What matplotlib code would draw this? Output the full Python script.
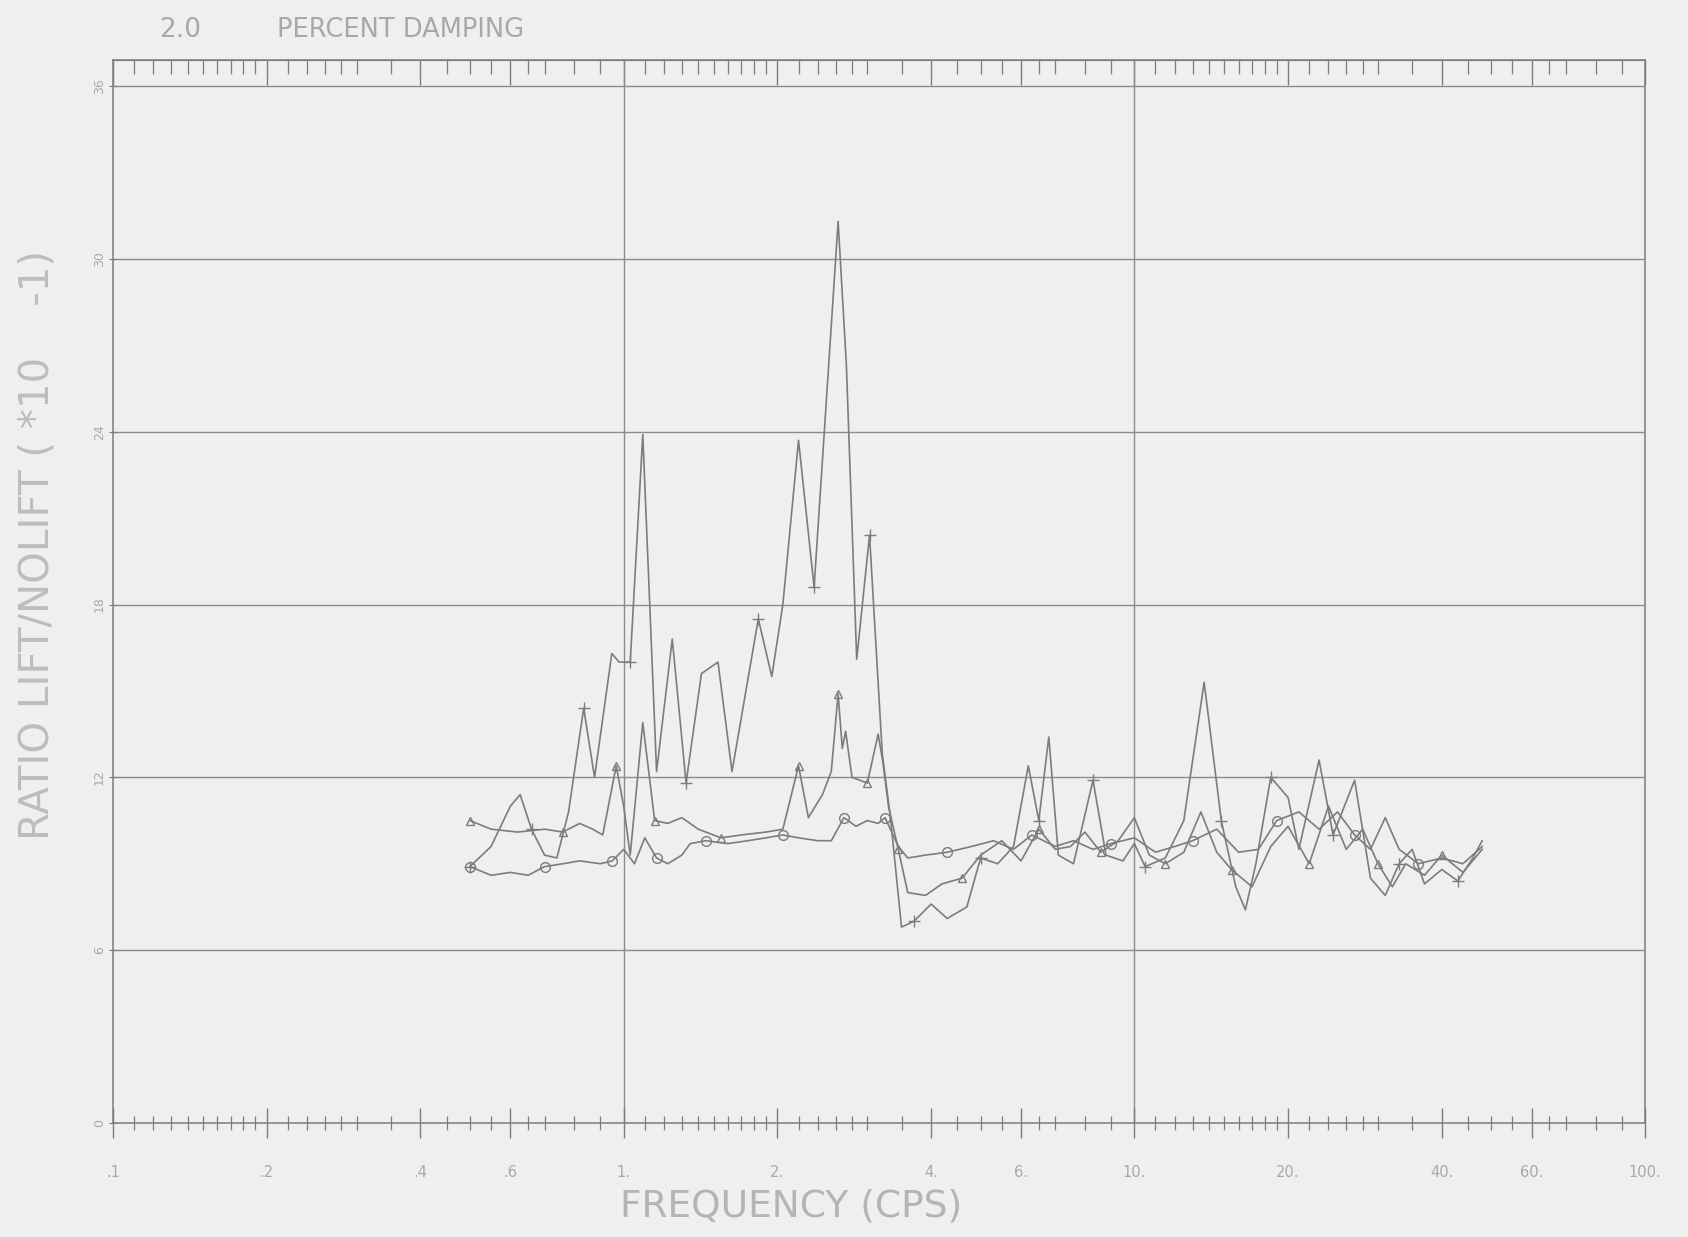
import matplotlib
matplotlib.use("Agg")
import matplotlib.pyplot as plt
from matplotlib.ticker import FixedLocator, FixedFormatter, NullFormatter

# ---- data: response ratio (x 10^-1) versus frequency (cps) ----
freq_a = [0.50, 0.55, 0.60, 0.627, 0.66, 0.70, 0.74, 0.78, 0.835, 0.877, 0.948, 0.98, 1.03,
          1.09, 1.16, 1.245, 1.325, 1.42, 1.53, 1.63, 1.835, 1.95, 2.05, 2.20, 2.36, 2.63,
          2.73, 2.86, 3.03, 3.21, 3.33, 3.50, 3.70, 4.0, 4.3, 4.7, 5.0, 5.4, 5.8, 6.2, 6.5,
          6.8, 7.1, 7.6, 8.3, 8.8, 9.5, 10.0, 10.5, 11.5, 12.5, 13.7, 14.8, 15.8, 16.5, 17.3,
          18.5, 20.0, 21.0, 23.0, 24.5, 27.0, 29.0, 31.0, 33.0, 35.0, 37.0, 40.0, 43.0, 46.0, 48.0]
ratio_a = [8.9, 9.6, 11.0, 11.4, 10.2, 9.3, 9.2, 10.8, 14.4, 12.0, 16.3, 16.0, 16.0,
           23.9, 12.2, 16.8, 11.8, 15.6, 16.0, 12.2, 17.5, 15.5, 18.0, 23.7, 18.6, 31.3,
           26.3, 16.1, 20.4, 12.8, 10.6, 6.8, 7.0, 7.6, 7.1, 7.5, 9.2, 9.0, 9.6, 12.4, 10.5,
           13.4, 9.3, 9.0, 11.9, 9.3, 9.1, 9.7, 8.9, 9.2, 10.5, 15.3, 10.5, 8.2, 7.4, 9.0,
           12.0, 11.3, 9.5, 12.6, 10.0, 11.9, 8.5, 7.9, 9.0, 9.5, 8.3, 8.8, 8.4, 9.2, 9.8]

freq_b = [0.50, 0.55, 0.62, 0.70, 0.76, 0.82, 0.87, 0.91, 0.967, 1.0, 1.03, 1.09, 1.15,
          1.22, 1.30, 1.40, 1.55, 1.70, 1.90, 2.05, 2.20, 2.30, 2.45, 2.55, 2.63, 2.68,
          2.72, 2.80, 3.00, 3.15, 3.22, 3.30, 3.45, 3.60, 3.90, 4.2, 4.6, 5.0, 5.5, 6.0,
          6.5, 7.0, 7.5, 8.0, 8.6, 9.3, 10.0, 10.7, 11.5, 12.5, 13.5, 14.5, 15.5, 17.0,
          18.5, 20.0, 22.0, 24.0, 26.0, 28.0, 30.0, 32.0, 34.0, 37.0, 40.0, 44.0, 48.0]
ratio_b = [10.5, 10.2, 10.1, 10.2, 10.1, 10.4, 10.2, 10.0, 12.4, 11.0, 9.3, 13.9, 10.5,
           10.4, 10.6, 10.2, 9.9, 10.0, 10.1, 10.2, 12.4, 10.6, 11.4, 12.2, 14.9, 13.0,
           13.6, 12.0, 11.8, 13.5, 12.5, 11.0, 9.5, 8.0, 7.9, 8.3, 8.5, 9.3, 9.8, 9.1,
           10.2, 9.5, 9.6, 10.1, 9.4, 9.8, 10.6, 9.3, 9.0, 9.4, 10.8, 9.4, 8.8, 8.2,
           9.6, 10.3, 9.0, 11.0, 9.5, 10.2, 9.0, 8.2, 9.0, 8.6, 9.3, 8.7, 9.5]

freq_c = [0.50, 0.55, 0.60, 0.65, 0.70, 0.76, 0.82, 0.90, 0.95, 1.0, 1.05, 1.10, 1.16,
          1.22, 1.30, 1.35, 1.45, 1.60, 1.75, 1.90, 2.05, 2.20, 2.40, 2.55, 2.70, 2.85,
          3.00, 3.15, 3.25, 3.45, 3.60, 3.90, 4.3, 4.8, 5.3, 5.8, 6.3, 7.0, 7.6, 8.3, 9.0,
          10.0, 11.0, 12.0, 13.0, 14.5, 16.0, 17.5, 19.0, 21.0, 23.0, 25.0, 27.0, 29.0,
          31.0, 33.0, 36.0, 40.0, 44.0, 48.0]
ratio_c = [8.9, 8.6, 8.7, 8.6, 8.9, 9.0, 9.1, 9.0, 9.1, 9.5, 9.0, 9.9, 9.2,
           9.0, 9.3, 9.7, 9.8, 9.7, 9.8, 9.9, 10.0, 9.9, 9.8, 9.8, 10.6, 10.3,
           10.5, 10.4, 10.6, 9.6, 9.2, 9.3, 9.4, 9.6, 9.8, 9.5, 10.0, 9.6, 9.8, 9.5, 9.7,
           9.9, 9.4, 9.6, 9.8, 10.2, 9.4, 9.5, 10.5, 10.8, 10.2, 10.8, 10.0, 9.5,
           10.6, 9.5, 9.0, 9.2, 9.0, 9.6]

# ---- axis annotation ----
x_tick_values = [0.1, 0.2, 0.4, 0.6, 1, 2, 4, 6, 10, 20, 40, 60, 100]
x_tick_labels = [".1", ".2", ".4", ".6", "1.", "2.", "4.", "6.", "10.", "20.", "40.", "60.", "100."]
y_tick_values = [0, 6, 12, 18, 24, 30, 36]
y_tick_labels = ["0", "6", "12", "18", "24", "30", "36"]
minor_mantissas = [1.1, 1.2, 1.3, 1.4, 1.5, 1.6, 1.7, 1.8, 1.9, 2.2, 2.4, 2.6, 2.8, 3.0,
                   3.5, 4.5, 5.0, 5.5, 6.5, 7.0, 8.0, 9.0]
damping_value = "2.0"
damping_caption = "PERCENT DAMPING"
x_title = "FREQUENCY (CPS)"
y_title = "RATIO LIFT/NOLIFT ( *10    -1)"

BG = "#efefed"
INK = "#7c7c7c"
GRID = "#8c8c8c"
TXT = "#a8a8a8"

W, H = 1688, 1237
fig = plt.figure(figsize=(W / 100, H / 100), dpi=100, facecolor=BG)
left, right = 113 / W, 1645 / W
bottom, top = (H - 1123) / H, (H - 60) / H
ax = fig.add_axes([left, bottom, right - left, top - bottom])
ax.set_facecolor(BG)
ax.set_xscale("log")
ax.set_xlim(0.1, 100)
ax.set_ylim(0, 36 + (86 - 60) / 28.8)

minor_ticks = [m * d for d in (0.1, 1, 10) for m in minor_mantissas]
minor_ticks = [t for t in minor_ticks if t not in x_tick_values]

ax.xaxis.set_major_locator(FixedLocator(x_tick_values))
ax.xaxis.set_major_formatter(FixedFormatter(x_tick_labels))
ax.xaxis.set_minor_locator(FixedLocator(minor_ticks))
ax.xaxis.set_minor_formatter(NullFormatter())
ax.tick_params(axis="x", which="major", direction="inout", length=22, width=1.0,
               color=INK, labelcolor=TXT, labelsize=10.5, pad=19)
ax.tick_params(axis="x", which="minor", direction="inout", length=10, width=0.9, color=INK)

ax.yaxis.set_major_locator(FixedLocator(y_tick_values))
ax.yaxis.set_major_formatter(FixedFormatter(y_tick_labels))
ax.tick_params(axis="y", which="major", direction="inout", length=6, width=0.8,
               color=INK, labelcolor=TXT, labelsize=9, pad=2)
for lab in ax.get_yticklabels():
    lab.set_rotation(90)
    lab.set_va("center")

# top tick strip hanging down from the upper frame line
sec = ax.secondary_xaxis("top")
sec.xaxis.set_major_locator(FixedLocator(x_tick_values))
sec.xaxis.set_major_formatter(NullFormatter())
sec.xaxis.set_minor_locator(FixedLocator(minor_ticks))
sec.xaxis.set_minor_formatter(NullFormatter())
sec.tick_params(axis="x", which="major", direction="in", length=18, width=1.0, color=INK)
sec.tick_params(axis="x", which="minor", direction="in", length=10, width=0.9, color=INK)
sec.spines["top"].set_color(INK)

for s in ax.spines.values():
    s.set_color(INK)
    s.set_linewidth(1.1)

# grid: horizontal every 6 units, vertical at the decades
for yv in y_tick_values[1:]:
    ax.axhline(yv, color=GRID, lw=1.0, zorder=1)
for xv in (1, 10):
    ax.axvline(xv, color=GRID, lw=1.0, zorder=1)

line_kw = dict(color=INK, lw=1.2, zorder=3)
ax.plot(freq_a, ratio_a, marker="+", ms=8, mew=1.0,
        markevery=list(range(0, len(freq_a), 4)), **line_kw)
ax.plot(freq_b, ratio_b, marker="^", ms=6, mew=1.0, mfc="none",
        markevery=list(range(0, len(freq_b), 4)), **line_kw)
ax.plot(freq_c, ratio_c, marker="o", ms=7, mew=1.0, mfc="none",
        markevery=list(range(0, len(freq_c), 4)), **line_kw)

fig.text(159 / W, 1 - 30 / H, damping_value, ha="left", va="center",
         fontsize=19, color=TXT)
fig.text(277 / W, 1 - 30 / H, damping_caption, ha="left", va="center",
         fontsize=18.5, color=TXT)
fig.text(791 / W, 1 - 1206 / H, x_title, ha="center", va="center",
         fontsize=27, color="#b4b4b4")
fig.text(38 / W, 1 - 545 / H, y_title, ha="center", va="center", rotation=90,
         fontsize=29, color="#bdbdbd")

fig.savefig("out.png", dpi=100, facecolor=BG)
